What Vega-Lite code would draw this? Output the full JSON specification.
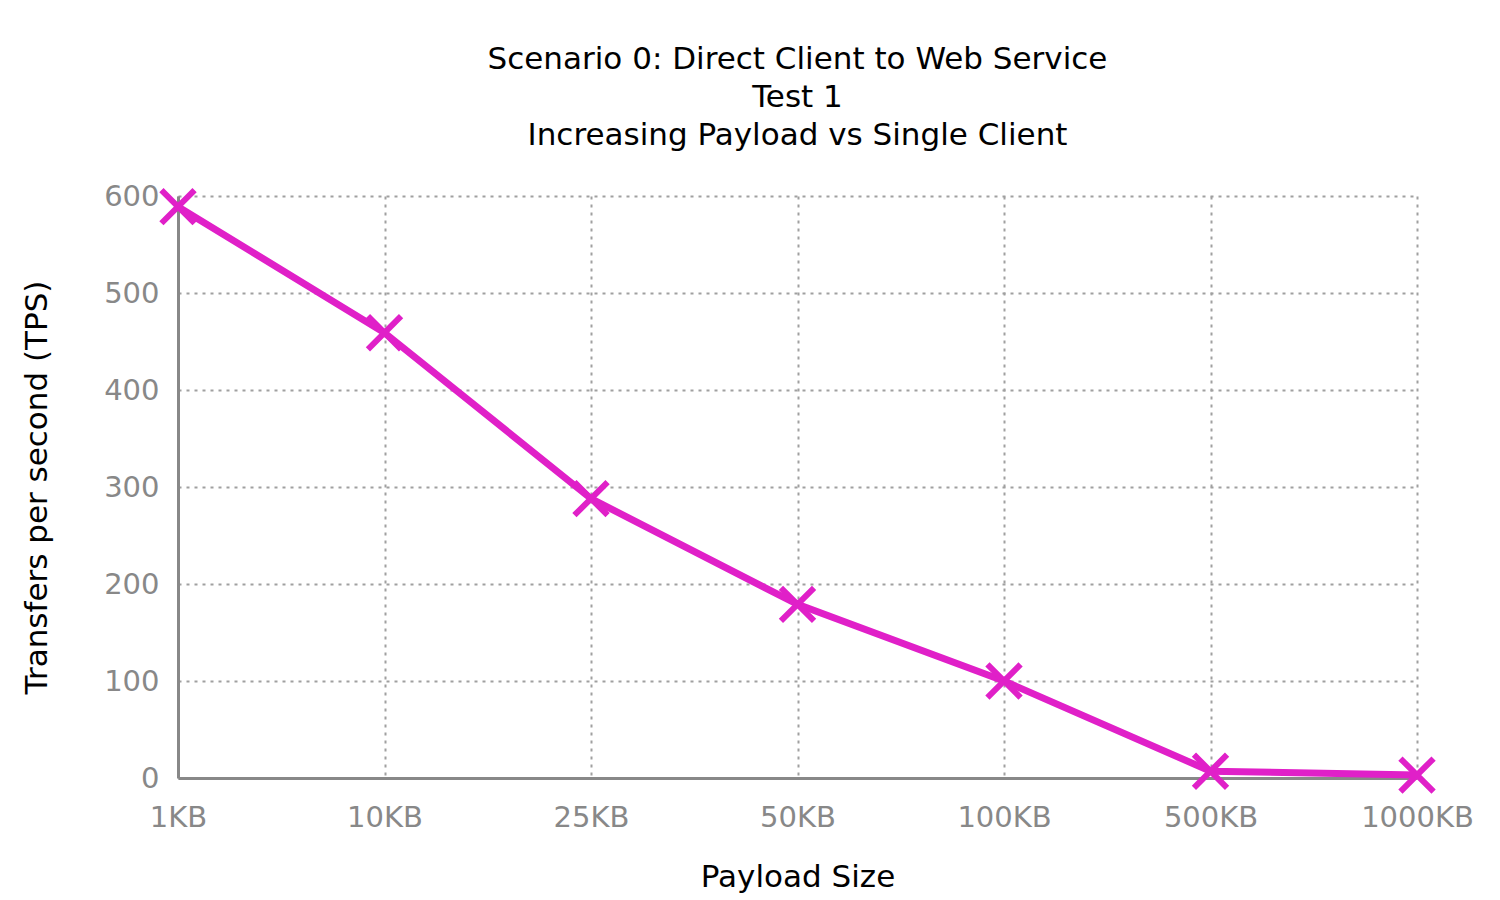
{
  "$schema": "https://vega.github.io/schema/vega-lite/v6.json",
  "autosize": "none",
  "width": 1239,
  "height": 582,
  "padding": {"left": 178, "top": 196, "right": 83, "bottom": 122},
  "background": "white",
  "title": {
    "text": ["Scenario 0: Direct Client to Web Service", "Test 1", "Increasing Payload vs Single Client"],
    "font": "DejaVu Sans",
    "fontSize": 31,
    "fontWeight": "normal",
    "lineHeight": 38,
    "anchor": "middle",
    "color": "black",
    "offset": 26
  },
  "data": {
    "values": [
      {"size": "1KB", "tps": 589},
      {"size": "10KB", "tps": 459},
      {"size": "25KB", "tps": 288},
      {"size": "50KB", "tps": 179},
      {"size": "100KB", "tps": 100},
      {"size": "500KB", "tps": 7},
      {"size": "1000KB", "tps": 3}
    ]
  },
  "encoding": {
    "x": {
      "field": "size",
      "type": "ordinal",
      "sort": null,
      "scale": {"type": "point", "padding": 0},
      "title": "Payload Size",
      "axis": {"labelAngle": 0, "labelPadding": 25, "titlePadding": 30}
    },
    "y": {
      "field": "tps",
      "type": "quantitative",
      "scale": {"domain": [0, 600]},
      "title": "Transfers per second (TPS)",
      "axis": {"values": [0, 100, 200, 300, 400, 500, 600], "labelPadding": 19, "titlePadding": 50}
    }
  },
  "layer": [
    {
      "mark": {"type": "line", "color": "#e020c8", "strokeWidth": 7}
    },
    {
      "mark": {
        "type": "point",
        "shape": "M-1,-1L1,1M1,-1L-1,1",
        "size": 1100,
        "strokeWidth": 6,
        "color": "#e020c8",
        "opacity": 1,
        "filled": false
      }
    }
  ],
  "config": {
    "view": {"stroke": null},
    "axis": {
      "labelFont": "DejaVu Sans",
      "titleFont": "DejaVu Sans",
      "labelFontSize": 29,
      "titleFontSize": 31,
      "titleFontWeight": "normal",
      "labelColor": "#888888",
      "titleColor": "black",
      "grid": true,
      "gridColor": "#a0a0a0",
      "gridDash": [3, 5],
      "gridWidth": 2,
      "domainColor": "#888888",
      "domainWidth": 3,
      "ticks": false
    }
  }
}
